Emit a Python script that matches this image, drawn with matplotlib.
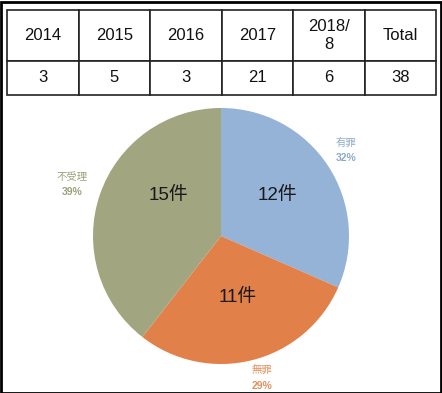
import matplotlib.pyplot as plt
from matplotlib.patches import Rectangle

# --- Data ---
years = ["2014", "2015", "2016", "2017", "2018/\n8", "Total"]
counts = ["3", "5", "3", "21", "6", "38"]

verdicts = ["有罪", "無罪", "不受理"]
verdict_counts = [12, 11, 15]
verdict_pcts = ["32%", "29%", "39%"]

colors = ["#95B3D7", "#E2804A", "#A1A680"]
label_colors = ["#8EAACB", "#E0925E", "#9CA27A"]

# label positions in pie radius units (layout only)
inner_pos = [(0.44, 0.32), (0.13, -0.48), (-0.41, 0.32)]
outer_pos = [(0.98, 0.67), (0.32, -1.11), (-1.16, 0.40)]

FONTS = ["Liberation Sans", "Noto Sans CJK JP", "DejaVu Sans"]
plt.rcParams["font.family"] = FONTS

W, H = 442, 393
fig = plt.figure(figsize=(W / 100, H / 100), dpi=100)

# --- Table ---
tax = fig.add_axes([7 / W, 1 - 95 / H, 429 / W, 85 / H])
tax.axis("off")
tbl = tax.table(cellText=[years, counts], cellLoc="center", bbox=[0, 0, 1, 1])
tbl.auto_set_font_size(False)
for (r, c), cell in tbl.get_celld().items():
    cell.set_height(0.6 if r == 0 else 0.4)
    cell.set_linewidth(1.2)
    cell.set_edgecolor("#222222")
    cell.get_text().set_fontsize(12)
    cell.get_text().set_color("#111111")

# --- Pie ---
cx, cy, rad = 221, 236, 128
pax = fig.add_axes([(cx - rad) / W, 1 - (cy + rad) / H, 2 * rad / W, 2 * rad / H])
pax.pie(verdict_counts, colors=colors, startangle=90, counterclock=False,
        radius=1.0, wedgeprops=dict(linewidth=0))
pax.set_xlim(-1, 1)
pax.set_ylim(-1, 1)
pax.set_aspect("equal")
pax.axis("off")

for i, n in enumerate(verdict_counts):
    x, y = inner_pos[i]
    pax.text(x, y, f"{n}件", ha="center", va="center", fontsize=13.5,
             color="#1a1a1a", clip_on=False)
    x, y = outer_pos[i]
    pax.text(x, y + 0.058, verdicts[i], ha="center", va="center", fontsize=7.5,
             color=label_colors[i], clip_on=False)
    pax.text(x, y - 0.058, verdict_pcts[i], ha="center", va="center", fontsize=7.5,
             fontweight="bold", color=label_colors[i], clip_on=False)

# outer frame
fig.patches.append(Rectangle((0.5 / W, 0.5 / H), 1 - 2 / W, 1 - 2 / H,
                             transform=fig.transFigure, fill=False,
                             edgecolor="black", linewidth=2))

fig.savefig("out.png", dpi=100)
